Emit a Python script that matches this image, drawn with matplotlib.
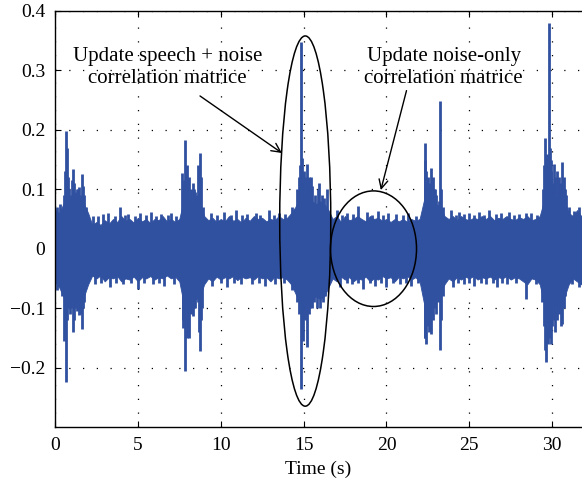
import matplotlib
matplotlib.use("Agg")
import matplotlib.pyplot as plt
from matplotlib.patches import Ellipse
import numpy as np

# envelope of the dense noise floor, one value every 0.25 s from 0 to 32 s
env_hi = [0.065, 0.06, 0.075, 0.085, 0.08, 0.085, 0.08, 0.075, 0.06, 0.04,
          0.045, 0.04, 0.048, 0.042, 0.05, 0.045, 0.055, 0.047, 0.05, 0.044,
          0.052, 0.046, 0.05, 0.043, 0.05, 0.048, 0.055, 0.046, 0.05, 0.045,
          0.05, 0.08, 0.085, 0.075, 0.08, 0.075, 0.055, 0.048, 0.052, 0.045,
          0.05, 0.046, 0.055, 0.047, 0.05, 0.044, 0.052, 0.047, 0.055, 0.05,
          0.052, 0.046, 0.05, 0.048, 0.055, 0.05, 0.052, 0.06, 0.07, 0.085,
          0.09, 0.085, 0.08, 0.075, 0.08, 0.075, 0.065, 0.05, 0.055, 0.045,
          0.055, 0.048, 0.05, 0.055, 0.05, 0.046, 0.055, 0.05, 0.052, 0.047,
          0.05, 0.045, 0.05, 0.046, 0.05, 0.045, 0.05, 0.047, 0.05, 0.08,
          0.085, 0.08, 0.075, 0.07, 0.055, 0.05, 0.055, 0.048, 0.055, 0.05,
          0.048, 0.052, 0.05, 0.055, 0.05, 0.055, 0.048, 0.052, 0.05, 0.055,
          0.05, 0.048, 0.053, 0.05, 0.055, 0.048, 0.05, 0.055, 0.08, 0.09,
          0.09, 0.085, 0.085, 0.08, 0.06, 0.055, 0.065, 0.055, 0.06]
env_lo = [-0.055, -0.065, -0.08, -0.09, -0.085, -0.09, -0.085, -0.08, -0.06, -0.045,
          -0.05, -0.045, -0.055, -0.048, -0.05, -0.046, -0.055, -0.05, -0.052, -0.047,
          -0.055, -0.048, -0.05, -0.046, -0.052, -0.048, -0.05, -0.045, -0.05, -0.047,
          -0.055, -0.09, -0.09, -0.08, -0.085, -0.08, -0.06, -0.05, -0.055, -0.047,
          -0.052, -0.048, -0.05, -0.046, -0.053, -0.047, -0.05, -0.048, -0.052, -0.046,
          -0.05, -0.048, -0.055, -0.047, -0.05, -0.048, -0.052, -0.06, -0.075, -0.09,
          -0.095, -0.09, -0.085, -0.08, -0.085, -0.08, -0.065, -0.05, -0.055, -0.047,
          -0.052, -0.048, -0.055, -0.05, -0.052, -0.047, -0.055, -0.05, -0.052, -0.046,
          -0.05, -0.048, -0.055, -0.047, -0.05, -0.046, -0.052, -0.048, -0.055, -0.09,
          -0.095, -0.09, -0.08, -0.075, -0.06, -0.05, -0.055, -0.048, -0.052, -0.047,
          -0.05, -0.046, -0.052, -0.048, -0.05, -0.047, -0.052, -0.048, -0.05, -0.046,
          -0.052, -0.048, -0.05, -0.055, -0.06, -0.05, -0.052, -0.06, -0.09, -0.1,
          -0.095, -0.095, -0.09, -0.08, -0.06, -0.05, -0.055, -0.06, -0.055]
env_t = np.arange(len(env_hi)) * 0.25

# positive peaks (time s, amplitude)
up_t = [0.1, 0.3, 0.55, 0.6, 0.66, 0.72, 0.78, 0.85, 0.95, 1.0, 1.07, 1.15, 1.25, 1.3, 1.38,
        1.45, 1.5, 1.55, 1.63, 1.68, 1.75, 1.9,
        2.3, 2.6, 2.9, 3.2, 3.6, 3.9, 4.2, 4.4, 4.8, 5.1, 5.5, 5.8, 6.1, 6.4, 6.8, 7.0, 7.3,
        7.65, 7.75, 7.8, 7.87, 7.95, 8.0, 8.1, 8.2, 8.3, 8.38, 8.45, 8.55, 8.65, 8.7, 8.74,
        8.8, 8.95,
        9.4, 9.8, 10.2, 10.6, 10.9, 11.3, 11.6, 12.1, 12.4, 12.9, 13.2, 13.5, 13.9,
        14.3, 14.6, 14.7, 14.78, 14.82, 14.9, 14.95, 15.05, 15.15, 15.2, 15.3, 15.35, 15.45,
        15.5, 15.7, 15.85, 15.95, 16.1, 16.25, 16.4,
        17.0, 17.3, 17.6, 18.0, 18.3, 18.8, 19.1, 19.5, 19.8, 20.1, 20.6, 21.0, 21.3, 21.8,
        22.3, 22.35, 22.4, 22.5, 22.55, 22.6, 22.7, 22.8, 22.85, 22.95, 23.0, 23.15, 23.25,
        23.3, 23.4,
        23.9, 24.2, 24.4, 24.7, 25.0, 25.3, 25.6, 25.9, 26.2, 26.6, 26.9, 27.4, 27.7, 28.0,
        28.4, 28.7, 29.1,
        29.45, 29.5, 29.56, 29.62, 29.7, 29.75, 29.8, 29.85, 29.9, 29.95, 30.05, 30.1, 30.2,
        30.3, 30.4, 30.45, 30.55, 30.6, 30.7, 30.75, 30.85, 31.0, 31.3, 31.6]
up_v = [0.07, 0.075, 0.09, 0.13, 0.198, 0.17, 0.12, 0.1, 0.09, 0.115, 0.134, 0.11, 0.095, 0.1,
        0.1, 0.103, 0.085, 0.09, 0.125, 0.105, 0.09, 0.07,
        0.055, 0.055, 0.058, 0.06, 0.055, 0.07, 0.056, 0.058, 0.055, 0.06, 0.057, 0.062,
        0.055, 0.058, 0.056, 0.06, 0.055,
        0.128, 0.105, 0.115, 0.183, 0.14, 0.1, 0.12, 0.1, 0.11, 0.1, 0.095, 0.09, 0.14, 0.12,
        0.161, 0.12, 0.07,
        0.06, 0.056, 0.062, 0.057, 0.065, 0.056, 0.058, 0.06, 0.056, 0.065, 0.057, 0.06, 0.058,
        0.07, 0.1, 0.12, 0.14, 0.347, 0.153, 0.11, 0.13, 0.12, 0.143, 0.1, 0.12, 0.12,
        0.105, 0.09, 0.1, 0.111, 0.09, 0.085, 0.1,
        0.065, 0.057, 0.06, 0.058, 0.072, 0.062, 0.057, 0.063, 0.056, 0.06, 0.058, 0.056,
        0.06, 0.055,
        0.178, 0.15, 0.13, 0.12, 0.1, 0.11, 0.136, 0.12, 0.1, 0.1, 0.09, 0.08, 0.249,
        0.1, 0.07,
        0.065, 0.057, 0.062, 0.058, 0.06, 0.056, 0.062, 0.057, 0.065, 0.058, 0.06, 0.062,
        0.056, 0.058, 0.06, 0.06, 0.057,
        0.1, 0.14, 0.186, 0.15, 0.16, 0.14, 0.38, 0.17, 0.15, 0.13, 0.11, 0.143, 0.12,
        0.13, 0.12, 0.1, 0.11, 0.146, 0.12, 0.1, 0.09, 0.07, 0.064, 0.07]

# negative peaks (time s, amplitude)
dn_t = [0.1, 0.4, 0.55, 0.6, 0.65, 0.75, 0.8, 0.9, 0.98, 1.07, 1.12, 1.2, 1.28, 1.35, 1.45,
        1.5, 1.58, 1.63, 1.7, 1.75,
        2.4, 2.8, 3.3, 3.7, 4.1, 4.6, 5.0, 5.4, 5.9, 6.3, 6.6, 7.2,
        7.7, 7.75, 7.87, 7.95, 8.0, 8.1, 8.2, 8.3, 8.4, 8.45, 8.6, 8.7, 8.74, 8.8, 8.85,
        9.5, 10.0, 10.4, 10.8, 11.2, 11.9, 12.3, 12.7, 13.3, 13.8,
        14.3, 14.6, 14.7, 14.82, 14.88, 14.95, 15.05, 15.1, 15.18, 15.3, 15.4, 15.5, 15.6,
        15.8, 16.0, 16.15, 16.3,
        17.2, 17.6, 17.9, 18.3, 18.6, 19.0, 19.3, 19.7, 20.0, 20.4, 20.8, 21.2, 21.5, 21.9,
        22.3, 22.35, 22.4, 22.5, 22.55, 22.6, 22.7, 22.8, 22.9, 23.0, 23.1, 23.25, 23.3, 23.4,
        24.0, 24.3, 24.7, 25.0, 25.3, 25.7, 26.0, 26.4, 26.7, 27.0, 27.3, 27.8, 28.4, 29.0,
        29.4, 29.5, 29.56, 29.6, 29.65, 29.75, 29.8, 29.85, 29.95, 30.0, 30.1, 30.2, 30.3,
        30.4, 30.45, 30.55, 30.6, 30.7, 30.8, 31.2, 31.6]
dn_v = [-0.07, -0.08, -0.155, -0.13, -0.225, -0.12, -0.1, -0.11, -0.1, -0.14, -0.12, -0.1,
        -0.09, -0.105, -0.112, -0.1, -0.11, -0.135, -0.1, -0.09,
        -0.06, -0.057, -0.065, -0.058, -0.06, -0.057, -0.068, -0.058, -0.06, -0.057, -0.063,
        -0.06,
        -0.133, -0.12, -0.205, -0.15, -0.13, -0.15, -0.11, -0.113, -0.1, -0.1, -0.09, -0.14,
        -0.172, -0.12, -0.1,
        -0.062, -0.057, -0.065, -0.058, -0.06, -0.06, -0.057, -0.063, -0.06, -0.058,
        -0.07, -0.09, -0.11, -0.236, -0.14, -0.155, -0.1, -0.12, -0.166, -0.11, -0.1, -0.1,
        -0.09, -0.1, -0.1, -0.09, -0.08,
        -0.065, -0.057, -0.06, -0.058, -0.068, -0.057, -0.062, -0.058, -0.065, -0.057, -0.06,
        -0.058, -0.062, -0.057,
        -0.15, -0.15, -0.16, -0.13, -0.14, -0.125, -0.143, -0.12, -0.1, -0.11, -0.09, -0.171,
        -0.12, -0.08,
        -0.065, -0.057, -0.06, -0.058, -0.062, -0.057, -0.06, -0.058, -0.065, -0.057, -0.06,
        -0.058, -0.085, -0.06,
        -0.09, -0.13, -0.17, -0.15, -0.191, -0.16, -0.15, -0.14, -0.16, -0.13, -0.12, -0.14,
        -0.12, -0.11, -0.1, -0.13, -0.127, -0.1, -0.08, -0.06, -0.065]

x_ticks = [0, 5, 10, 15, 20, 25, 30]
y_ticks = [-0.2, -0.1, 0, 0.1, 0.2, 0.3, 0.4]
y_labels = ["\u22120.2", "\u22120.1", "0", "0.1", "0.2", "0.3", "0.4"]

wave_color = "#3050a0"
plt.rcParams["font.family"] = ["Liberation Serif", "DejaVu Serif"]

fig = plt.figure(figsize=(5.82, 4.90), dpi=100)
ax = fig.add_axes([0.0945, 0.1286, 0.9055, 0.849])

ax.fill_between(env_t, env_lo, env_hi, color=wave_color, lw=0.6, zorder=2)
ax.vlines(up_t, 0, up_v, color=wave_color, lw=2.0, zorder=2)
ax.vlines(dn_t, dn_v, 0, color=wave_color, lw=2.0, zorder=2)

ax.set_xlim(0, 31.8)
ax.set_ylim(-0.3, 0.4)
ax.set_xticks(x_ticks)
ax.set_yticks(y_ticks)
ax.set_yticklabels(y_labels)
ax.tick_params(direction="in", labelsize=14, top=True, length=4, pad=7)
ax.grid(True, color="black", linestyle=(0, (1, 10)), linewidth=0.9)
ax.set_axisbelow(True)
ax.spines["right"].set_visible(False)
for s in ["left", "bottom", "top"]:
    ax.spines[s].set_linewidth(1.0)
ax.set_xlabel("Time (s)", fontsize=14, labelpad=5)

# regions where each correlation matrix is updated
ax.add_patch(Ellipse((15.1, 0.0465), 3.08, 0.623, fill=False, ec="black", lw=1.1, zorder=3))
ax.add_patch(Ellipse((19.22, 0.0), 5.19, 0.1945, fill=False, ec="black", lw=1.1, zorder=3))

arrow = dict(arrowstyle="->", color="black", lw=1.0, shrinkA=0, shrinkB=0, mutation_scale=16)
ax.text(6.79, 0.305, "Update speech + noise\ncorrelation matrice", ha="center", va="center",
        fontsize=15, linespacing=1.25, zorder=4)
ax.annotate("", xy=(13.69, 0.161), xytext=(8.75, 0.257), arrowprops=arrow, zorder=4)
ax.text(23.46, 0.305, "Update noise-only\ncorrelation matrice", ha="center", va="center",
        fontsize=15, linespacing=1.25, zorder=4)
ax.annotate("", xy=(19.66, 0.0986), xytext=(21.21, 0.266), arrowprops=arrow, zorder=4)

fig.savefig("out.png", dpi=100)
